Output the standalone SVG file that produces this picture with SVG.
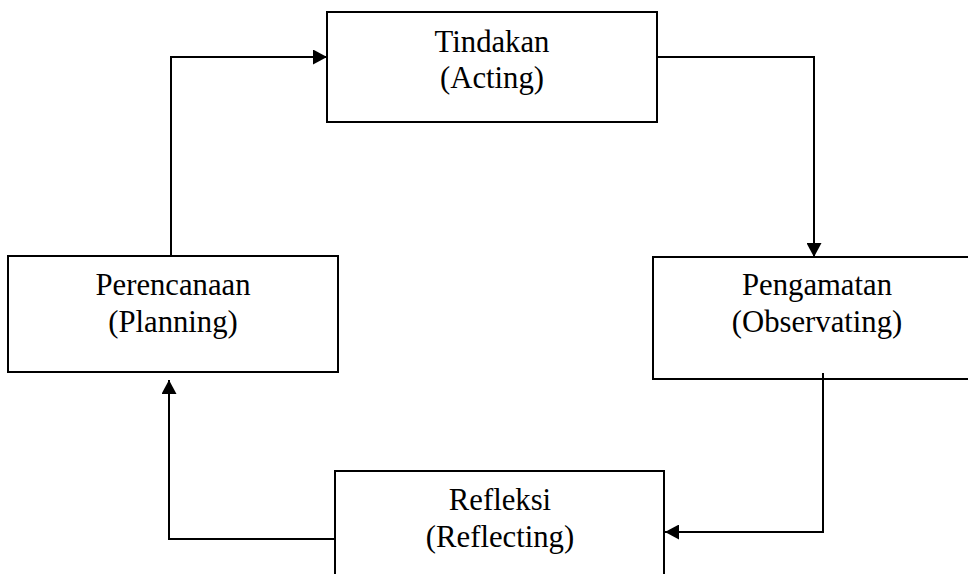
<svg xmlns="http://www.w3.org/2000/svg" width="968" height="574" viewBox="0 0 968 574">
<style>
.box{fill:#fff;stroke:#000;stroke-width:2}
.lbl{font-family:"Liberation Serif","Times New Roman",serif;font-size:30.7px;fill:#000;text-anchor:middle}
.con{fill:none;stroke:#000;stroke-width:2}
</style>
<defs>
<marker id="ah" markerUnits="userSpaceOnUse" markerWidth="15" markerHeight="15" refX="14" refY="7.5" orient="auto">
<path d="M0,0 L14,7.5 L0,15 z" fill="#000"/>
</marker>
</defs>
<rect width="968" height="574" fill="#fff"/>
<g id="tindakan">
<rect class="box" x="327" y="12" width="330" height="110"/>
<text class="lbl" x="492" y="52">Tindakan</text>
<text class="lbl" x="492" y="88">(Acting)</text>
</g>
<g id="perencanaan">
<rect class="box" x="8" y="256" width="330" height="116"/>
<text class="lbl" x="173" y="295">Perencanaan</text>
<text class="lbl" x="173" y="332">(Planning)</text>
</g>
<g id="pengamatan">
<rect class="box" x="653" y="257" width="330" height="122"/>
<text class="lbl" x="817" y="295">Pengamatan</text>
<text class="lbl" x="817" y="332">(Observating)</text>
</g>
<g id="refleksi">
<rect class="box" x="335" y="471" width="329" height="130"/>
<text class="lbl" x="500" y="510">Refleksi</text>
<text class="lbl" x="500" y="547">(Reflecting)</text>
</g>
<g id="connectors">
<path class="con" d="M171,256 V57 H327" marker-end="url(#ah)"/>
<path class="con" d="M657,57 H814 V257" marker-end="url(#ah)"/>
<path class="con" d="M823,373 V532 H665" marker-end="url(#ah)"/>
<path class="con" d="M335,539 H169 V380" marker-end="url(#ah)"/>
</g>
</svg>
